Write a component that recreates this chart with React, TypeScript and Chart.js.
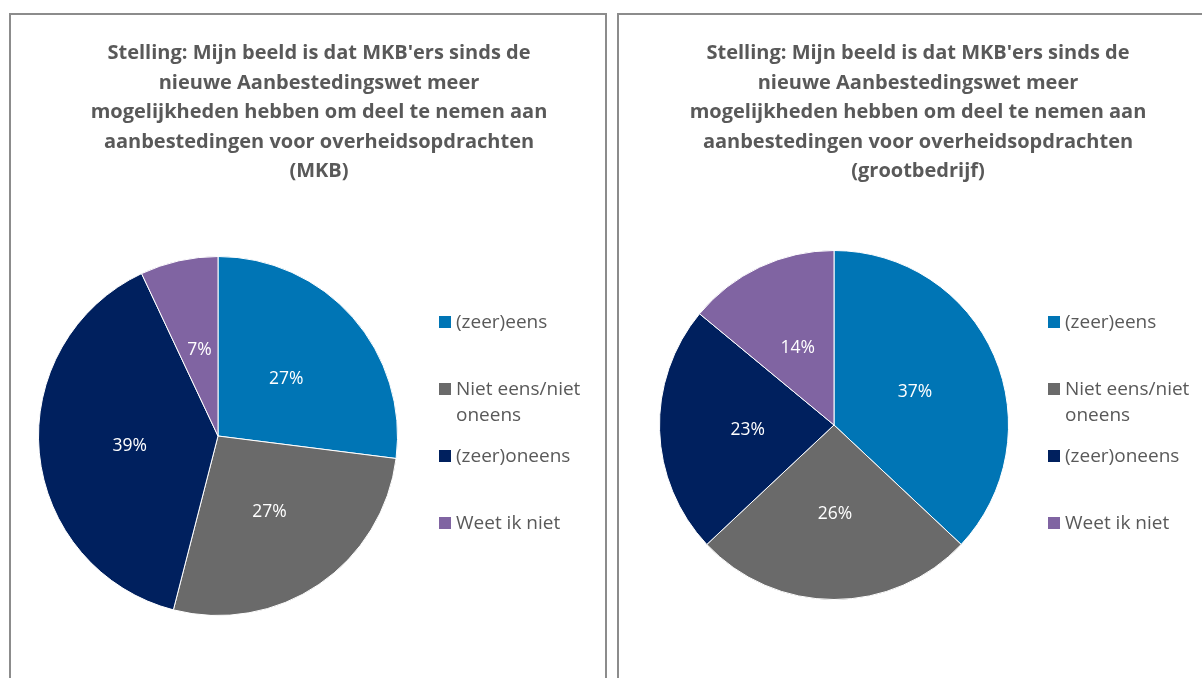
import React, { useEffect, useRef } from 'react';
import { Chart, registerables } from 'chart.js';

Chart.register(...registerables);

const categories: (string | string[])[] = ['(zeer)eens', ['Niet eens/niet', 'oneens'], '(zeer)oneens', 'Weet ik niet'];
const mkbValues = [27, 27, 39, 7];
const grootValues = [37, 26, 23, 14];
const sliceColors = ['#0075B5', '#6A6A6A', '#00205E', '#8064A2'];
const titleMkb = [
  "Stelling: Mijn beeld is dat MKB'ers sinds de",
  'nieuwe Aanbestedingswet meer',
  'mogelijkheden hebben om deel te nemen aan',
  'aanbestedingen voor overheidsopdrachten',
  '(MKB)',
];
const titleGroot = [
  "Stelling: Mijn beeld is dat MKB'ers sinds de",
  'nieuwe Aanbestedingswet meer',
  'mogelijkheden hebben om deel te nemen aan',
  'aanbestedingen voor overheidsopdrachten',
  '(grootbedrijf)',
];

const FONT = '"Open Sans", "DejaVu Sans", sans-serif';
const TEXT_GRAY = '#595959';

const panelPlugin = {
  id: 'panelText',
  afterDraw(chart: any, _args: any, opts: any) {
    const ctx = chart.ctx as CanvasRenderingContext2D;
    ctx.save();
    // title
    ctx.font = `bold ${opts.titleSize}px ${FONT}`;
    ctx.fillStyle = TEXT_GRAY;
    ctx.textAlign = 'center';
    ctx.textBaseline = 'middle';
    (opts.title as string[]).forEach((line, i) => {
      ctx.fillText(line, opts.titleX, opts.titleY + i * opts.titleLH);
    });
    // data labels
    const meta = chart.getDatasetMeta(0);
    const data = chart.data.datasets[0].data as number[];
    ctx.font = `17.5px ${FONT}`;
    ctx.fillStyle = '#FFFFFF';
    meta.data.forEach((arc: any, i: number) => {
      const p = arc.tooltipPosition();
      ctx.fillText(`${data[i]}%`, p.x + 1, p.y + 2);
    });
    // legend
    const labels = chart.data.labels as (string | string[])[];
    const colors = chart.data.datasets[0].backgroundColor as string[];
    ctx.textAlign = 'left';
    ctx.font = `19px ${FONT}`;
    labels.forEach((lab, i) => {
      const y = opts.legendY + i * opts.legendStep;
      ctx.fillStyle = colors[i];
      ctx.fillRect(opts.legendX, y - 6, 12, 12);
      ctx.fillStyle = TEXT_GRAY;
      const lines = Array.isArray(lab) ? lab : [lab];
      lines.forEach((ln, j) => {
        ctx.fillText(ln, opts.legendX + 17, y + 1 + j * 26);
      });
    });
    ctx.restore();
  },
};

type PanelProps = {
  values: number[];
  title: string[];
  left: number;
  width: number;
  canvasWidth: number;
  padding: { left: number; right: number; top: number; bottom: number };
  titleX: number;
  legendX: number;
};

const CANVAS_H = 680;

function PiePanel(props: PanelProps) {
  const ref = useRef<HTMLCanvasElement | null>(null);
  useEffect(() => {
    if (!ref.current) return;
    const chart = new Chart(ref.current, {
      type: 'pie',
      data: {
        labels: categories as any,
        datasets: [
          {
            data: props.values,
            backgroundColor: sliceColors,
            borderColor: '#FFFFFF',
            borderWidth: 1,
          },
        ],
      },
      options: {
        responsive: false,
        animation: false,
        layout: { padding: props.padding },
        plugins: {
          legend: { display: false },
          title: { display: false },
          tooltip: { enabled: false },
          panelText: {
            title: props.title,
            titleX: props.titleX,
            titleY: 38.5,
            titleLH: 29.5,
            titleSize: 20,
            legendX: props.legendX,
            legendY: 307,
            legendStep: 67,
          },
        } as any,
      },
      plugins: [panelPlugin as any],
    });
    return () => chart.destroy();
  }, []);
  return (
    <div
      style={{
        position: 'absolute',
        left: props.left,
        top: 13,
        width: props.width,
        height: 720,
        border: '2px solid #8C8C8C',
        boxSizing: 'border-box',
        overflow: 'hidden',
        background: '#FFFFFF',
      }}
    >
      <canvas
        ref={ref}
        width={props.canvasWidth}
        height={CANVAS_H}
        style={{ display: 'block', width: props.canvasWidth, height: CANVAS_H }}
      />
    </div>
  );
}

export default function App() {
  return (
    <div
      style={{
        position: 'absolute',
        left: 0,
        top: 0,
        width: 1202,
        height: 678,
        overflow: 'hidden',
        background: '#FFFFFF',
      }}
    >
      <PiePanel
        values={mkbValues}
        title={titleMkb}
        left={9}
        width={598}
        canvasWidth={594}
        padding={{ left: 27, right: 207, top: 241, bottom: CANVAS_H - 601 }}
        titleX={308}
        legendX={428}
      />
      <PiePanel
        values={grootValues}
        title={titleGroot}
        left={617}
        width={620}
        canvasWidth={600}
        padding={{ left: 40, right: 210, top: 235, bottom: CANVAS_H - 585 }}
        titleX={299}
        legendX={429}
      />
    </div>
  );
}
